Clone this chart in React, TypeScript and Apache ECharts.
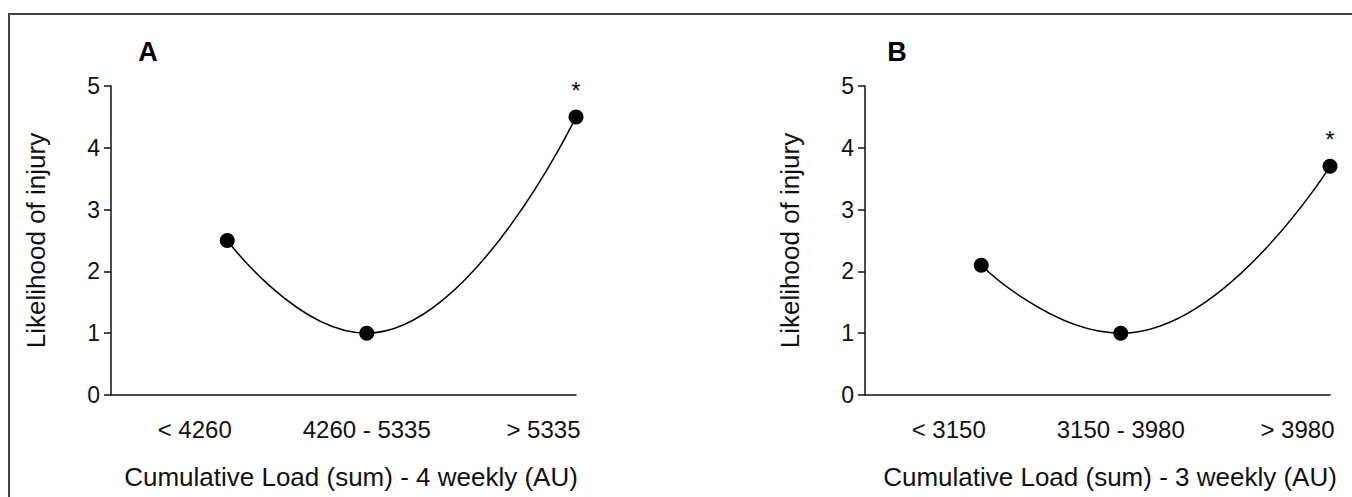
import React, { useEffect, useRef } from "react";
import * as echarts from "echarts";

// ---- data ----
const categoriesA = ["< 4260", "4260 - 5335", "> 5335"];
const categoriesB = ["< 3150", "3150 - 3980", "> 3980"];
const pointX = [25, 55, 100];
const labelX = [18, 55, 93];
const valuesA = [2.5, 1.0, 4.5];
const valuesB = [2.1, 1.0, 3.7];
const significance = ["", "", "*"];
const xTitleA = "Cumulative Load (sum) - 4 weekly (AU)";
const xTitleB = "Cumulative Load (sum) - 3 weekly (AU)";
const yTitle = "Likelihood of injury";
const panelLetters = ["A", "B"];

const FONT = "'Liberation Sans', Arial, Helvetica, sans-serif";
const INK = "#111";

function makeXAxis(gridIndex: number, cats: string[], namePad: number) {
  return {
    type: "value",
    gridIndex,
    min: 0,
    max: 100,
    name: gridIndex === 0 ? xTitleA : xTitleB,
    nameLocation: "middle",
    nameGap: 69,
    nameTextStyle: { fontFamily: FONT, fontSize: 26, color: INK, padding: [0, 0, 0, namePad] },
    axisLine: { show: true, lineStyle: { color: INK, width: 1.5 } },
    axisTick: { show: false },
    splitLine: { show: false },
    axisLabel: {
      customValues: labelX,
      margin: 22,
      fontFamily: FONT,
      fontSize: 24,
      color: INK,
      formatter: (v: number) => {
        const i = labelX.indexOf(v);
        return i >= 0 ? cats[i] : "";
      },
    },
  };
}

function makeYAxis(gridIndex: number) {
  return {
    type: "value",
    gridIndex,
    min: 0,
    max: 5,
    interval: 1,
    name: yTitle,
    nameLocation: "middle",
    nameGap: 62,
    nameTextStyle: { fontFamily: FONT, fontSize: 26, color: INK },
    axisLine: { show: true, lineStyle: { color: INK, width: 1.5 } },
    axisTick: { show: true, inside: false, length: 7, lineStyle: { color: INK, width: 1.5 } },
    splitLine: { show: false },
    axisLabel: { margin: 11, fontFamily: FONT, fontSize: 23, color: INK },
  };
}

function makeSeries(idx: number, values: number[]) {
  return {
    type: "line",
    xAxisIndex: idx,
    yAxisIndex: idx,
    data: pointX.map((x, i) => [x, values[i]]),
    smooth: 0.5,
    smoothMonotone: "x",
    clip: false,
    symbol: "circle",
    symbolSize: 15,
    itemStyle: { color: "#000" },
    lineStyle: { color: "#000", width: 1.5 },
    label: {
      show: true,
      position: "top",
      distance: 7,
      fontFamily: FONT,
      fontSize: 24,
      color: INK,
      formatter: (p: any) => significance[p.dataIndex],
    },
  };
}

export default function App() {
  const ref = useRef<HTMLDivElement>(null);
  useEffect(() => {
    if (!ref.current) return;
    const chart = echarts.init(ref.current, undefined, { renderer: "svg" });
    chart.setOption({
      animation: false,
      backgroundColor: "#fff",
      grid: [
        { left: 111, top: 86, width: 465, height: 309 },
        { left: 865, top: 86, width: 465, height: 309 },
      ],
      xAxis: [makeXAxis(0, categoriesA, 15), makeXAxis(1, categoriesB, 25)],
      yAxis: [makeYAxis(0), makeYAxis(1)],
      series: [makeSeries(0, valuesA), makeSeries(1, valuesB)],
      graphic: [
        {
          type: "rect",
          shape: { x: 9, y: 14, width: 1400, height: 600 },
          style: { fill: "none", stroke: "#444", lineWidth: 2 },
          silent: true,
        },
        {
          type: "text",
          x: 148,
          y: 52,
          style: {
            text: panelLetters[0],
            fontFamily: FONT,
            fontSize: 27,
            fontWeight: "bold",
            fill: "#000",
            align: "center",
            verticalAlign: "middle",
          },
        },
        {
          type: "text",
          x: 897,
          y: 52,
          style: {
            text: panelLetters[1],
            fontFamily: FONT,
            fontSize: 27,
            fontWeight: "bold",
            fill: "#000",
            align: "center",
            verticalAlign: "middle",
          },
        },
      ],
    });
    return () => chart.dispose();
  }, []);
  return (
    <div
      ref={ref}
      style={{ position: "fixed", left: 0, top: 0, width: 1352, height: 497, background: "#fff" }}
    />
  );
}
